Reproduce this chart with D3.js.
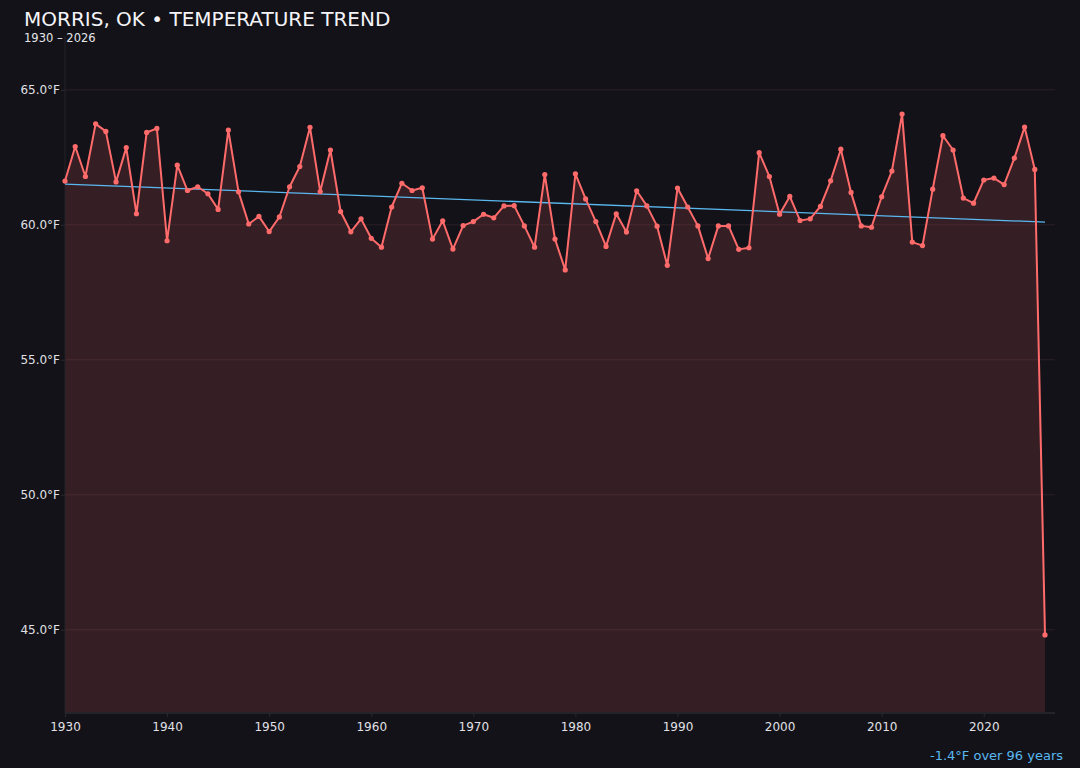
<!DOCTYPE html>
<html>
<head>
<meta charset="utf-8">
<script src="https://cdn.jsdelivr.net/npm/d3@7"></script>
<style>
  html, body { margin: 0; padding: 0; background: #131218; }
  svg { display: block; font-family: "DejaVu Sans", sans-serif; }
</style>
</head>
<body>
<svg id="chart" width="1080" height="768"></svg>
<script>
const title = "MORRIS, OK • TEMPERATURE TREND";
const subtitle = "1930 – 2026";
const years = d3.range(1930, 2027);
const temps = [
  61.62, 62.90, 61.79, 63.74, 63.46, 61.59, 62.86, 60.41, 63.42, 63.57,
  59.41, 62.21, 61.27, 61.41, 61.15, 60.57, 63.51, 61.22, 60.03, 60.31,
  59.75, 60.29, 61.41, 62.16, 63.61, 61.23, 62.77, 60.49, 59.74, 60.22,
  59.50, 59.17, 60.66, 61.54, 61.27, 61.37, 59.47, 60.15, 59.10, 59.97,
  60.12, 60.39, 60.26, 60.70, 60.71, 59.96, 59.17, 61.86, 59.47, 58.33,
  61.89, 60.96, 60.12, 59.20, 60.41, 59.73, 61.26, 60.70, 59.95, 58.50,
  61.36, 60.66, 59.96, 58.75, 59.96, 59.96, 59.09, 59.15, 62.67, 61.79,
  60.39, 61.05, 60.16, 60.22, 60.68, 61.63, 62.80, 61.20, 59.96, 59.91,
  61.04, 61.99, 64.10, 59.36, 59.23, 61.32, 63.30, 62.77, 60.99, 60.80,
  61.66, 61.73, 61.49, 62.47, 63.62, 62.05, 44.81
];
const yTicks = [45, 50, 55, 60, 65];
const xTicks = [1930, 1940, 1950, 1960, 1970, 1980, 1990, 2000, 2010, 2020];

(function () {
const data = years.map((yr, i) => ({ year: yr, temp: temps[i] }));

const svg = d3.select("#chart");
const mLeft = 65, mRight = 1055, mTop = 36, mBottom = 713;

const mn = d3.min(temps), mx = d3.max(temps);
const pad = (mx - mn) * 0.15;
const x = d3.scaleLinear().domain([1930, 2026]).range([mLeft, 1045]);
const y = d3.scaleLinear().domain([mn - pad, mx + pad]).range([mBottom, mTop]);

// gridlines
svg.append("g").selectAll("line").data(yTicks).join("line")
  .attr("x1", mLeft).attr("x2", mRight)
  .attr("y1", d => y(d)).attr("y2", d => y(d))
  .attr("stroke", "#2a2027").attr("stroke-width", 1);

// area
const area = d3.area().x(d => x(d.year)).y0(mBottom).y1(d => y(d.temp));
svg.append("path").datum(data).attr("d", area)
  .attr("fill", "rgba(255,107,107,0.15)");

// axes
const yAxis = d3.axisLeft(y).tickValues(yTicks).tickSize(4).tickFormat(d => d.toFixed(1) + "°F");
const gy = svg.append("g").attr("transform", `translate(${mLeft},0)`).call(yAxis);
gy.select(".domain").attr("stroke", "#24232b").attr("d", `M0,${mTop}V${mBottom}`);
gy.selectAll(".tick line").attr("stroke", "#2a2930");
gy.selectAll(".tick text").attr("fill", "#e0e0e6").attr("font-size", 12)
  .attr("font-family", "DejaVu Sans, sans-serif").attr("x", -5);

const xAxis = d3.axisBottom(x).tickValues(xTicks).tickSize(4).tickFormat(d3.format("d"));
const gx = svg.append("g").attr("transform", `translate(0,${mBottom})`).call(xAxis);
gx.select(".domain").attr("stroke", "#24232b").attr("stroke-width", 2).attr("d", `M${mLeft},0H${mRight}`);
gx.selectAll(".tick line").attr("stroke", "#2a2930");
gx.selectAll(".tick text").attr("fill", "#e0e0e6").attr("font-size", 12)
  .attr("font-family", "DejaVu Sans, sans-serif").attr("dy", "0.9em");

// trend
const mxr = d3.mean(years), myr = d3.mean(temps);
const slope = d3.sum(data, d => (d.year - mxr) * (d.temp - myr)) / d3.sum(data, d => (d.year - mxr) ** 2);
const icpt = myr - slope * mxr;
svg.append("line")
  .attr("x1", x(1930)).attr("y1", y(icpt + slope * 1930))
  .attr("x2", x(2026)).attr("y2", y(icpt + slope * 2026))
  .attr("stroke", "#5ab8f0").attr("stroke-width", 1.3);

// line
const line = d3.line().x(d => x(d.year)).y(d => y(d.temp));
svg.append("path").datum(data).attr("d", line)
  .attr("fill", "none").attr("stroke", "#ff6b6b").attr("stroke-width", 2)
  .attr("stroke-linejoin", "round");

svg.append("g").selectAll("circle").data(data).join("circle")
  .attr("cx", d => x(d.year)).attr("cy", d => y(d.temp)).attr("r", 2.6)
  .attr("fill", "#ff6b6b");

// titles
svg.append("text").attr("x", 24).attr("y", 25.5).attr("fill", "#f4f4f8")
  .attr("font-size", 20).text(title);
svg.append("text").attr("x", 24).attr("y", 41.5).attr("fill", "#e6e6ea")
  .attr("font-size", 11.5).text(subtitle);

const change = slope * (2026 - 1930);
svg.append("text").attr("x", 1063).attr("y", 760).attr("text-anchor", "end")
  .attr("fill", "#5ab8f0").attr("font-size", 13)
  .text(`${change.toFixed(1)}°F over ${2026 - 1930} years`);
})();
</script>
</body>
</html>
